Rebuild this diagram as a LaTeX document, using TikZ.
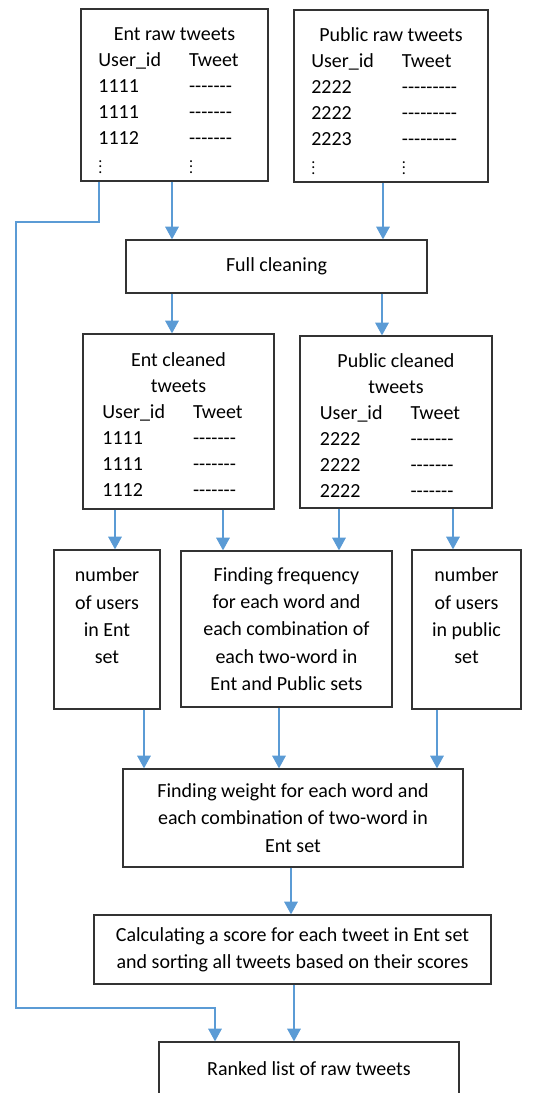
\documentclass[tikz,border=0pt]{standalone}
\usepackage{fontspec}
\setmainfont{Carlito}
\usetikzlibrary{arrows.meta}
\definecolor{flowblue}{RGB}{91,155,213}
\newcommand{\tdash}[1]{\foreach \k in {1,...,#1}{\mbox{-}}}
\newcommand{\tdots}{\raisebox{-1pt}{\fontsize{12}{12}\selectfont$\vdots$}}

\begin{document}
\begin{tikzpicture}[x=0.75pt,y=0.75pt,yscale=-1,xscale=1,
    box/.style={draw=black!80, line width=0.9pt, align=center, inner sep=0pt,
        font=\fontsize{15}{20.5}\selectfont},
    tablebox/.style={box, font=\fontsize{15}{19.5}\selectfont},
    flow/.style={draw=flowblue, line width=1.4pt, -{Triangle[width=10pt,length=9.5pt]}},
    back/.style={draw=flowblue, line width=0.9pt}]
    \useasboundingbox (0,0) rectangle (554,1093);
    \clip (0,0) rectangle (554,1093);

    % Raw tweets
    \node [tablebox, minimum width=140.25pt, minimum height=129pt] (entraw) at (174.5,95)
        {\begin{tabular}{@{}p{68pt}@{}l@{\hspace{9pt}}}
         \noalign{\vskip 9pt}
         \multicolumn{2}{c}{Ent raw tweets}\\
         User\_id & Tweet\\
         1111 & \tdash{7}\\
         1111 & \tdash{7}\\
         1112 & \tdash{7}\\
         \tdots & \tdots
         \end{tabular}};
    \node [tablebox, minimum width=145.5pt, minimum height=129pt] (pubraw) at (391,96)
        {\begin{tabular}{@{}p{68pt}@{}l@{}}
         \noalign{\vskip 9pt}
         \multicolumn{2}{c}{Public raw tweets}\\
         User\_id & Tweet\\
         2222 & \tdash{9}\\
         2222 & \tdash{9}\\
         2223 & \tdash{9}\\
         \tdots & \tdots
         \end{tabular}};

    % Cleaning
    \node [box, minimum width=225.75pt, minimum height=39.75pt] (clean) at (276.5,266.5) {Full cleaning};

    % Cleaned tweets
    \node [tablebox, minimum width=143.25pt, minimum height=131.25pt] (entcl) at (178.5,421.5)
        {\begin{tabular}{@{}p{68pt}@{}l@{\hspace{9pt}}}
         \noalign{\vskip 7.5pt}
         \multicolumn{2}{c}{Ent cleaned}\\
         \multicolumn{2}{c}{tweets}\\
         User\_id & Tweet\\
         1111 & \tdash{7}\\
         1111 & \tdash{7}\\
         1112 & \tdash{7}
         \end{tabular}};
    \node [tablebox, minimum width=144pt, minimum height=129pt] (pubcl) at (396,422)
        {\begin{tabular}{@{}p{68pt}@{}l@{\hspace{9pt}}}
         \noalign{\vskip 7.5pt}
         \multicolumn{2}{c}{Public cleaned}\\
         \multicolumn{2}{c}{tweets}\\
         User\_id & Tweet\\
         2222 & \tdash{7}\\
         2222 & \tdash{7}\\
         2222 & \tdash{7}
         \end{tabular}};

    % Counting and frequency
    \node [box, minimum width=79.5pt, minimum height=119.25pt] (nument) at (107,629.5)
        {number\\of users\\in Ent\\set\\~};
    \node [box, minimum width=158.25pt, minimum height=117pt] (freq) at (286.5,629)
        {Finding frequency\\for each word and\\each combination of\\each two-word in\\Ent and Public sets};
    \node [box, minimum width=81.75pt, minimum height=119.25pt] (numpub) at (466.5,629.5)
        {number\\of users\\in public\\set\\~};

    % Weight, score, ranking
    \node [box, minimum width=255pt, minimum height=73.5pt] (weight) at (293,818)
        {Finding weight for each word and\\each combination of two-word in\\Ent set};
    \node [box, minimum width=297.75pt, minimum height=51.75pt] (calc) at (292.5,949.5)
        {\raisebox{-3pt}{\begin{tabular}{@{}c@{}}Calculating a score for each tweet in Ent set\\and sorting all tweets based on their scores\end{tabular}}};
    \node [box, minimum width=225pt, minimum height=43.5pt] (ranked) at (309,1071)
        {\raisebox{3pt}{Ranked list of raw tweets}};

    % Arrows
    \draw [flow] (entraw.south -| 172,0) -- (clean.north -| 172,0);
    \draw [flow] (pubraw.south -| 383,0) -- (clean.north -| 383,0);
    \draw [flow] (clean.south -| 172,0) -- (entcl.north -| 172,0);
    \draw [flow] (clean.south -| 382,0) -- (pubcl.north -| 382,0);
    \draw [flow] (entcl.south -| 115,0) -- (nument.north -| 115,0);
    \draw [flow] (entcl.south -| 223,0) -- (freq.north -| 223,0);
    \draw [flow] (pubcl.south -| 339,0) -- (freq.north -| 339,0);
    \draw [flow] (pubcl.south -| 453,0) -- (numpub.north -| 453,0);
    \draw [flow] (nument.south -| 144,0) -- (weight.north -| 144,0);
    \draw [flow] (freq.south -| 279,0) -- (weight.north -| 279,0);
    \draw [flow] (numpub.south -| 437,0) -- (weight.north -| 437,0);
    \draw [flow] (weight.south -| 291,0) -- (calc.north -| 291,0);
    \draw [flow] (calc.south -| 294,0) -- (ranked.north -| 294,0);

    % Raw tweets straight to the ranked list
    \coordinate (bendtop) at (16,222);
    \coordinate (bendbot) at (16,1008);
    \draw [back] (entraw.south -| 99,0) |- (bendtop) -- (bendbot) -| (215,1030);
    \draw [flow] (215,1008) -- (ranked.north -| 215,0);

\end{tikzpicture}
\end{document}
